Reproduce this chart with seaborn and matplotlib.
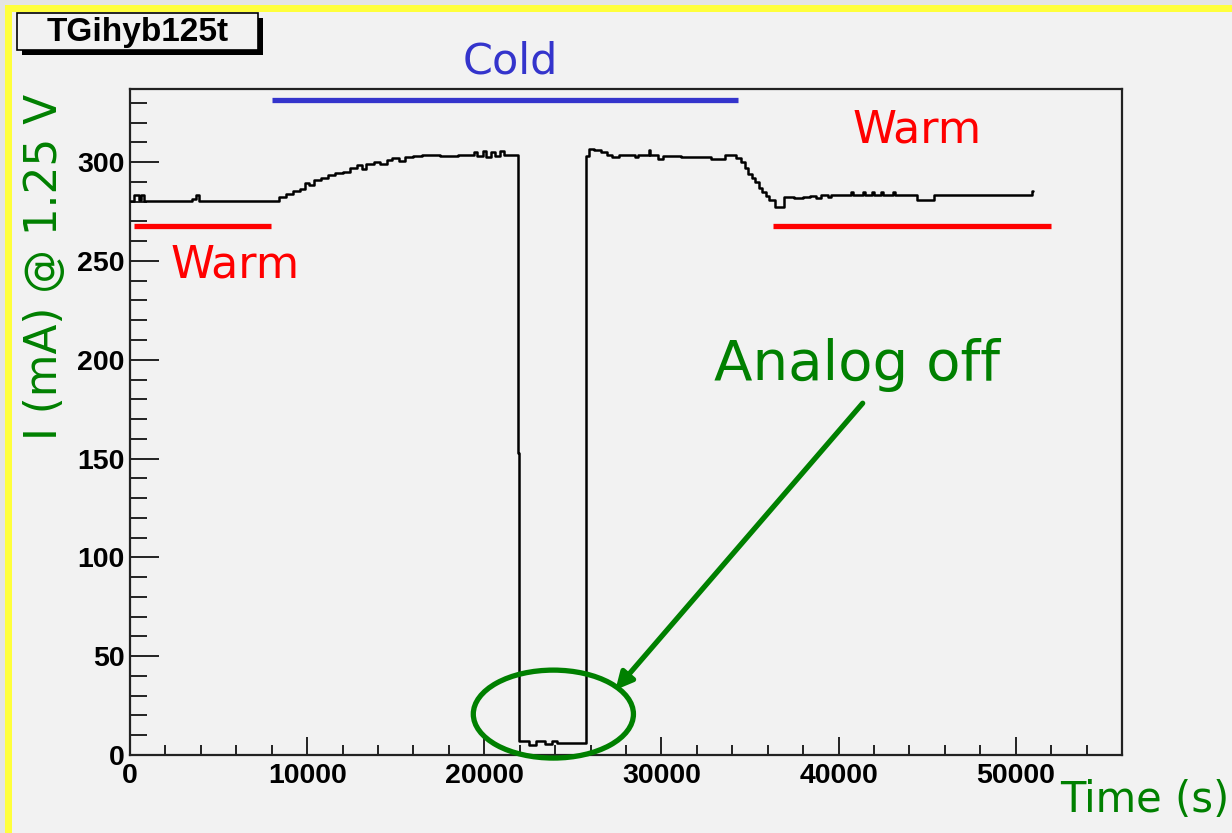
import numpy as np
import pandas as pd
import seaborn as sns
import matplotlib
matplotlib.use("Agg")
import matplotlib.pyplot as plt
from matplotlib.patches import Ellipse, Rectangle
from matplotlib.ticker import MultipleLocator

# ---------------- data (time in s, current in mA) ----------------
time_s = [0, 250, 500, 600, 800, 3500, 3700, 3900, 8400, 8800, 9200, 9600, 9900,
          10100, 10400, 10800, 11200, 11600, 12000, 12400, 12800, 13100, 13300,
          13800, 14100, 14500, 14800, 15200, 15500, 16000, 16500, 17500, 18500,
          19400, 19600, 19900, 20100, 20400, 20600, 20900, 21100, 21900, 21950,
          22500, 22900, 23400, 23800, 24100, 25750, 25900, 26200, 26600, 26900,
          27200, 27600, 28500, 28700, 29300, 29350, 29800, 30100, 31100, 32800,
          33600, 34200, 34500, 34700, 34900, 35100, 35300, 35500, 35700, 35900,
          36100, 36400, 36900, 37500, 38000, 38400, 38700, 39000, 39400, 39600,
          40700, 40800, 41400, 41500, 41900, 42000, 42400, 42500, 43100, 43200,
          44400, 45400, 50900, 51000]
current_mA = [280.5, 283.5, 281, 283.5, 280.5, 281.5, 283.5, 280.5, 282.5, 284,
              285.5, 286.5, 289.5, 288.5, 291, 292, 293.5, 294.5, 295, 297, 298.5,
              296.5, 299, 300, 299, 301, 302, 300.5, 302.5, 303, 303.5, 303, 303.5,
              305, 303, 305.5, 302.5, 305, 303, 305.5, 303.5, 153, 7, 5, 7, 5.5, 7,
              6, 303, 306.5, 306, 305, 303.5, 302.5, 303.5, 302.5, 303.5, 306, 303.5,
              301.5, 303, 302.5, 301.5, 303.5, 302, 300, 297, 294, 292, 290, 287,
              285, 283, 281, 277.5, 282.5, 282, 282.5, 283, 282, 283.5, 282.5, 283.5,
              285, 283.5, 285, 283.5, 285, 283.5, 285, 283.5, 285, 283.5, 281, 283.5,
              285.5, 285.5]

x_ticks = [0, 10000, 20000, 30000, 40000, 50000]
y_ticks = [0, 50, 100, 150, 200, 250, 300]

cold_span = [8000, 34350]
cold_level = 331.3
warm_left_span = [200, 7970]
warm_right_span = [36300, 52000]
warm_level = 267.6

title_text = "TGihyb125t"
ylabel_text = "I (mA) @ 1.25 V"
xlabel_text = "Time (s)"

df = pd.DataFrame({"t": time_s, "I": current_mA})

# ---------------- figure ----------------
sns.set_style("white")
plt.rcParams["font.family"] = ["DejaVu Sans"]
plt.rcParams["text.color"] = "black"

W, H = 1232, 833
fig = plt.figure(figsize=(W / 100, H / 100), dpi=100)
fig.patch.set_facecolor("#e4e4e4")

def fx(px):
    return px / W

def fy(py):
    return 1 - py / H

# yellow frame and grey panel (behind everything)
fig.patches.append(Rectangle((fx(5), 0), 1, fy(5), transform=fig.transFigure,
                             facecolor="#ffff3c", edgecolor="none", zorder=-3))
fig.patches.append(Rectangle((fx(12), 0), 1, fy(12), transform=fig.transFigure,
                             facecolor="#f2f2f2", edgecolor="none", zorder=-2))

ax = fig.add_axes([fx(130), fy(755), fx(1122) - fx(130), fy(89) - fy(755)])
ax.set_zorder(2)
ax.set_facecolor("#f2f2f2")

sns.lineplot(data=df, x="t", y="I", ax=ax, color="black", linewidth=1.8,
             drawstyle="steps-post", estimator=None, sort=False, zorder=3)

ax.set_xlim(0, 56000)
ax.set_ylim(0, 337)
ax.set_xlabel("")
ax.set_ylabel("")

ax.set_xticks(x_ticks)
ax.set_xticklabels([str(v) for v in x_ticks])
ax.set_yticks(y_ticks)
ax.set_yticklabels([str(v) for v in y_ticks])
ax.xaxis.set_minor_locator(MultipleLocator(2000))
ax.yaxis.set_minor_locator(MultipleLocator(10))

ax.tick_params(which="both", bottom=True, left=True, top=False, right=False)
ax.tick_params(axis="x", which="major", direction="in", length=13, width=1.2, pad=6,
               colors="black")
ax.tick_params(axis="x", which="minor", direction="in", length=7, width=1.2,
               colors="black")
ax.tick_params(axis="y", which="major", direction="in", length=21, width=1.2, pad=4,
               colors="black")
ax.tick_params(axis="y", which="minor", direction="in", length=12, width=1.2,
               colors="black")
for lab in ax.get_xticklabels() + ax.get_yticklabels():
    lab.set_fontfamily("Liberation Sans")
    lab.set_fontweight("bold")
    lab.set_fontsize(20.5)
    lab.set_color("black")
for s in ax.spines.values():
    s.set_linewidth(1.6)
    s.set_color("#222222")
    s.set_visible(True)

# annotation bars
ax.plot(cold_span, [cold_level] * 2, color="#3434cc", linewidth=3.8,
        solid_capstyle="butt", zorder=4)
ax.plot(warm_left_span, [warm_level] * 2, color="#ff0000", linewidth=3.8,
        solid_capstyle="butt", zorder=4)
ax.plot(warm_right_span, [warm_level] * 2, color="#ff0000", linewidth=3.8,
        solid_capstyle="butt", zorder=4, clip_on=False)

# texts
fig.text(fx(510), fy(62), "Cold", color="#3434cc", fontsize=31, ha="center", va="center")
fig.text(fx(235), fy(265), "Warm", color="#ff0000", fontsize=32, ha="center", va="center",
         zorder=5)
fig.text(fx(917), fy(130), "Warm", color="#ff0000", fontsize=32, ha="center", va="center",
         zorder=5)
fig.text(fx(857), fy(365), "Analog off", color="#008000", fontsize=40.5, ha="center",
         va="center", zorder=5)
fig.text(fx(45), fy(267), ylabel_text, color="#008000", fontsize=31.5, rotation=90,
         ha="center", va="center", zorder=5)
fig.text(fx(1060), fy(800), xlabel_text, color="#008000", fontsize=30, ha="left",
         va="center", zorder=5)

# ellipse and arrow
ell = Ellipse((23900, 20.7), 9040, 44.5, facecolor="none", edgecolor="#008000",
              linewidth=3.8, clip_on=False, zorder=5)
ax.add_patch(ell)
ax.annotate("", xy=(27400, 32.9), xytext=(41360, 178),
            arrowprops=dict(arrowstyle="-|>,head_length=1.0,head_width=0.5",
                            color="#008000", linewidth=3.8, shrinkA=0, shrinkB=0),
            zorder=5)

# title box with shadow
fig.patches.append(Rectangle((fx(22), fy(55)), fx(263) - fx(22), fy(18) - fy(55),
                             transform=fig.transFigure, facecolor="black",
                             edgecolor="none", zorder=1))
fig.patches.append(Rectangle((fx(17), fy(50)), fx(258) - fx(17), fy(13) - fy(50),
                             transform=fig.transFigure, facecolor="#f2f2f2",
                             edgecolor="black", linewidth=1.2, zorder=2))
fig.text(fx(138), fy(32), title_text, fontfamily="Liberation Sans", fontweight="bold",
         fontsize=24, ha="center", va="center", color="black", zorder=3)

fig.savefig("out.png", dpi=100, facecolor=fig.get_facecolor())
